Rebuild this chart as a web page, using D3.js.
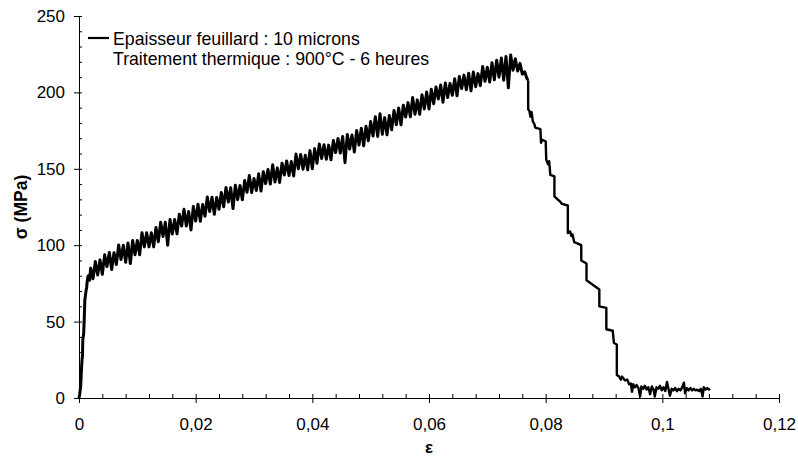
<!DOCTYPE html>
<html><head><meta charset="utf-8">
<script src="https://cdn.jsdelivr.net/npm/d3@7"></script>
<style>
html,body{margin:0;padding:0;background:#fff;}
svg{display:block;font-family:"Liberation Sans",Arial,sans-serif;}
</style></head>
<body>
<svg id="chart" width="798" height="461"></svg>
<script>
// ---- data ----
const xTicks = [0, 0.02, 0.04, 0.06, 0.08, 0.1, 0.12];
const yTicks = [0, 50, 100, 150, 200, 250];
const xTitle = "ε";
const yTitle = "σ (MPa)";
const legendLines = ["Epaisseur feuillard : 10 microns", "Traitement thermique : 900°C - 6 heures"];

const riseEps = [0,0.0001,0.0002,0.0003,0.0004,0.0005,0.0006,0.00065,0.0008,0.0009,
0.001,0.0011,0.0012,0.0013,0.0014,0.0015,0.0016,0.0018,
0.0020,0.0024,0.0028,0.0032,0.0036,0.0040,0.0044,0.0048,0.0052,0.0056,
0.0060,0.0064,0.0068,0.0072,0.0076,0.0080,0.0084,0.0088,0.0092,0.0096,
0.0100,0.0104,0.0108,0.0112,0.0116,0.0120,0.0124,0.0128,0.0132,0.0136,
0.0140,0.0144,0.0148,0.0152,0.0156,0.0160,0.0164,0.0168,0.0172,0.0176,
0.0180,0.0184,0.0188,0.0192,0.0196,0.0200,0.0204,0.0208,0.0212,0.0216,
0.0220,0.0224,0.0228,0.0232,0.0236,0.0240,0.0244,0.0248,0.0252,0.0256,
0.0260,0.0264,0.0268,0.0272,0.0276,0.0280,0.0284,0.0288,0.0292,0.0296,
0.0300,0.0304,0.0308,0.0312,0.0316,0.0320,0.0324,0.0328,0.0332,0.0336,
0.0340,0.0344,0.0348,0.0352,0.0356,0.0360,0.0364,0.0368,0.0372,0.0376,
0.0380,0.0384,0.0388,0.0392,0.0396,0.0400,0.0404,0.0408,0.0412,0.0416,
0.0420,0.0424,0.0428,0.0432,0.0436,0.0440,0.0444,0.0448,0.0452,0.0456,
0.0460,0.0464,0.0468,0.0472,0.0476,0.0480,0.0484,0.0488,0.0492,0.0496,
0.0500,0.0504,0.0508,0.0512,0.0516,0.0520,0.0524,0.0528,0.0532,0.0536,
0.0540,0.0544,0.0548,0.0552,0.0556,0.0560,0.0564,0.0568,0.0572,0.0576,
0.0580,0.0584,0.0588,0.0592,0.0596,0.0600,0.0604,0.0608,0.0612,0.0616,
0.0620,0.0624,0.0628,0.0632,0.0636,0.0640,0.0644,0.0648,0.0652,0.0656,
0.0660,0.0664,0.0668,0.0672,0.0676,0.0680,0.0684,0.0688,0.0692,0.0696,
0.0700,0.0704,0.0708,0.0712,0.0716,0.0720,0.0724,0.0728,0.0732,0.0736,
0.0740,0.0744,0.0748,0.0752,0.0756,0.0760,0.0764,0.0768,0.0770];
const riseSigma = [0,2,5,8,17,24,28,38,42,52,
64,67,70,72,76,79,80,77,
85,78,89.3,80.5,90.4,81,93.7,86,95.2,84.1,
95.1,87.4,100.1,90.7,99.9,88.8,101.5,88,103.1,93.8,
103.1,93.8,108.2,98.9,108.2,98.9,108.2,98.9,111.6,102.3,
115,105.7,115,100,116.8,107.4,116.8,107.5,120.2,112.6,
123.6,112.6,122,110,125.3,115.8,126.8,115.7,126.6,118.9,
131.6,122.1,131.4,120.3,131.2,123.5,134.5,125.1,137.8,128.3,
137.6,124,139.2,129.8,139.1,129.7,142.3,134.6,145.6,134.4,
143.6,135.8,146.7,135.5,148.1,140.3,149.5,140,152.6,141.4,
150.6,141.1,153.7,145.9,155.1,145.6,154.8,145.3,159.6,150.1,
159.3,149.7,158.9,149.3,161.9,150,163.2,153.7,166.2,156.7,
165.8,156.3,165.5,155.9,168.5,160.6,169.8,160.3,171.1,154,
172.4,162.9,172.1,161,175.1,165.6,176.5,165,177.9,168.4,
181,171.5,184.1,171.2,186,172.6,183.5,172.3,184.9,175.5,
188.1,178.8,189.8,178.8,191.6,183.9,193.3,184,196.7,185.7,
195.1,185.7,198.5,189.2,200.2,189.2,202,192.6,203.5,195.7,
204.8,193.6,206.2,196.7,205.9,198.1,209,197.8,210.4,202.6,
211.3,201.7,212.6,201,213.3,203.7,212.3,204.4,216.9,207.3,
216.4,206.8,219.4,208.3,221,210,222.5,208,223.5,203,
224.5,214.5,222,214,219,212,213.5,209,208];

const dropEps = [0.0770,0.0772,0.0774,0.0776,0.0778,0.0781,0.0782,0.0791,0.0792,0.0794,
0.0800,0.0801,0.0804,0.0806,0.0808,0.0815,0.0815,0.0826,0.0828,0.0838,
0.0838,0.0842,0.0844,0.0846,0.0849,0.0861,0.0861,0.0870,0.0870,0.0892,
0.0892,0.0904,0.0904,0.0915,0.0917,0.0922,0.0922,0.0926,0.0929];
const dropSigma = [189,188,184,187,181,179,177,176,167,169,
168,156,153,155,146,145,132,128,127,126,
108,109,106,107,102,100,90,88,77,71,
60,59,45,44,36,35,15,14,12];

const tailEps = [0.0931,0.0936,0.0940,0.0943,0.0946,0.0948,0.0950,0.0953,0.0956,0.0959,
0.0962,0.0964,0.0967,0.0970,0.0973,0.0976,0.0979,0.0982,0.0985,0.0987,
0.0990,0.0993,0.0996,0.0999,0.1002,0.1005,0.1008,0.1011,0.1013,0.1016,
0.1019,0.1022,0.1025,0.1028,0.1031,0.1034,0.1037,0.1039,0.1042,0.1045,
0.1048,0.1051,0.1054,0.1057,0.1060,0.1063,0.1066,0.1069,0.1071,0.1074,
0.1077,0.1080,0.1082];
const tailSigma = [14,11.5,12,9,9.5,4,9,7,8.5,6.5,
1,7.5,6,8,5.5,7,2.5,7.5,5.5,1,
7,6,8,5,7,4.5,10.5,5,1.5,6,
5,6.5,4.5,6,5,7,10,3,6.5,5,
6.5,5,6,5,5.5,4.5,6,1,7,5.5,
6.5,5.5,6];

// ---- drawing ----
const svg = d3.select("#chart");
const x = d3.scaleLinear().domain([0, 0.12]).range([79, 779]);
const y = d3.scaleLinear().domain([0, 250]).range([398, 16]);

const fr = d3.formatLocale({decimal: ",", thousands: " ", grouping: [3], currency: ["", " €"]});
const fmt = fr.format("~g");

const xMinor = d3.range(0, 0.1201, 0.004).filter(v => !xTicks.some(t => Math.abs(t - v) < 1e-9));
const yMinor = d3.range(0, 250.1, 10).filter(v => !yTicks.includes(v));

// X axis
const gx = svg.append("g").attr("transform", `translate(0,${y(0)})`);
gx.call(d3.axisBottom(x).tickValues(xTicks).tickFormat(fmt).tickSizeOuter(0).tickSize(5).tickPadding(15));
gx.selectAll(".tick line").attr("y1", -4).attr("y2", 5);
gx.append("g").call(d3.axisBottom(x).tickValues(xMinor).tickFormat("").tickSizeOuter(0).tickSize(-4))
  .select(".domain").remove();
gx.selectAll(".tick text").attr("font-size", 17).attr("fill", "#000").attr("font-family", "Liberation Sans, Arial, sans-serif");

// Y axis
const gy = svg.append("g").attr("transform", `translate(${x(0)},0)`);
gy.call(d3.axisLeft(y).tickValues(yTicks).tickFormat(d => d).tickSizeOuter(0).tickSize(5).tickPadding(9));
gy.selectAll(".tick line").attr("x1", -5).attr("x2", 3);
gy.append("g").call(d3.axisLeft(y).tickValues(yMinor).tickFormat("").tickSizeOuter(0).tickSize(-3))
  .select(".domain").remove();
gy.selectAll(".tick text").attr("font-size", 17).attr("fill", "#000").attr("font-family", "Liberation Sans, Arial, sans-serif");

svg.selectAll(".domain").attr("stroke", "#000");
svg.selectAll(".tick line").attr("stroke", "#000");

// Titles
svg.append("text").attr("x", 429).attr("y", 453).attr("text-anchor", "middle")
  .attr("font-size", 17).attr("font-weight", "bold").text(xTitle);
svg.append("text").attr("transform", `translate(27,${(y(0)+y(250))/2}) rotate(-90)`)
  .attr("text-anchor", "middle").attr("font-size", 17.5).attr("font-weight", "bold").text(yTitle);

// Curve (one series; the noisy loading part is stroked a little heavier, as in the reference)
const risePts = riseEps.map((e, i) => [e, riseSigma[i]]);
const restPts = [[riseEps[riseEps.length - 1], riseSigma[riseSigma.length - 1]]]
  .concat(dropEps.map((e, i) => [e, dropSigma[i]]))
  .concat(tailEps.map((e, i) => [e, tailSigma[i]]));
const line = d3.line().x(d => x(d[0])).y(d => y(d[1]));
svg.append("path").datum(risePts).attr("d", line)
  .attr("fill", "none").attr("stroke", "#000").attr("stroke-width", 3)
  .attr("stroke-linejoin", "round");
svg.append("path").datum(restPts).attr("d", line)
  .attr("fill", "none").attr("stroke", "#000").attr("stroke-width", 2.4)
  .attr("stroke-linejoin", "round");

// Legend
svg.append("line").attr("x1", 88).attr("x2", 109).attr("y1", 38).attr("y2", 38)
  .attr("stroke", "#000").attr("stroke-width", 2.2);
legendLines.forEach((t, i) => {
  svg.append("text").attr("x", 113).attr("y", 45 + i * 20).attr("font-size", 17.7)
    .attr("fill", "#000").text(t);
});
</script>
</body></html>
